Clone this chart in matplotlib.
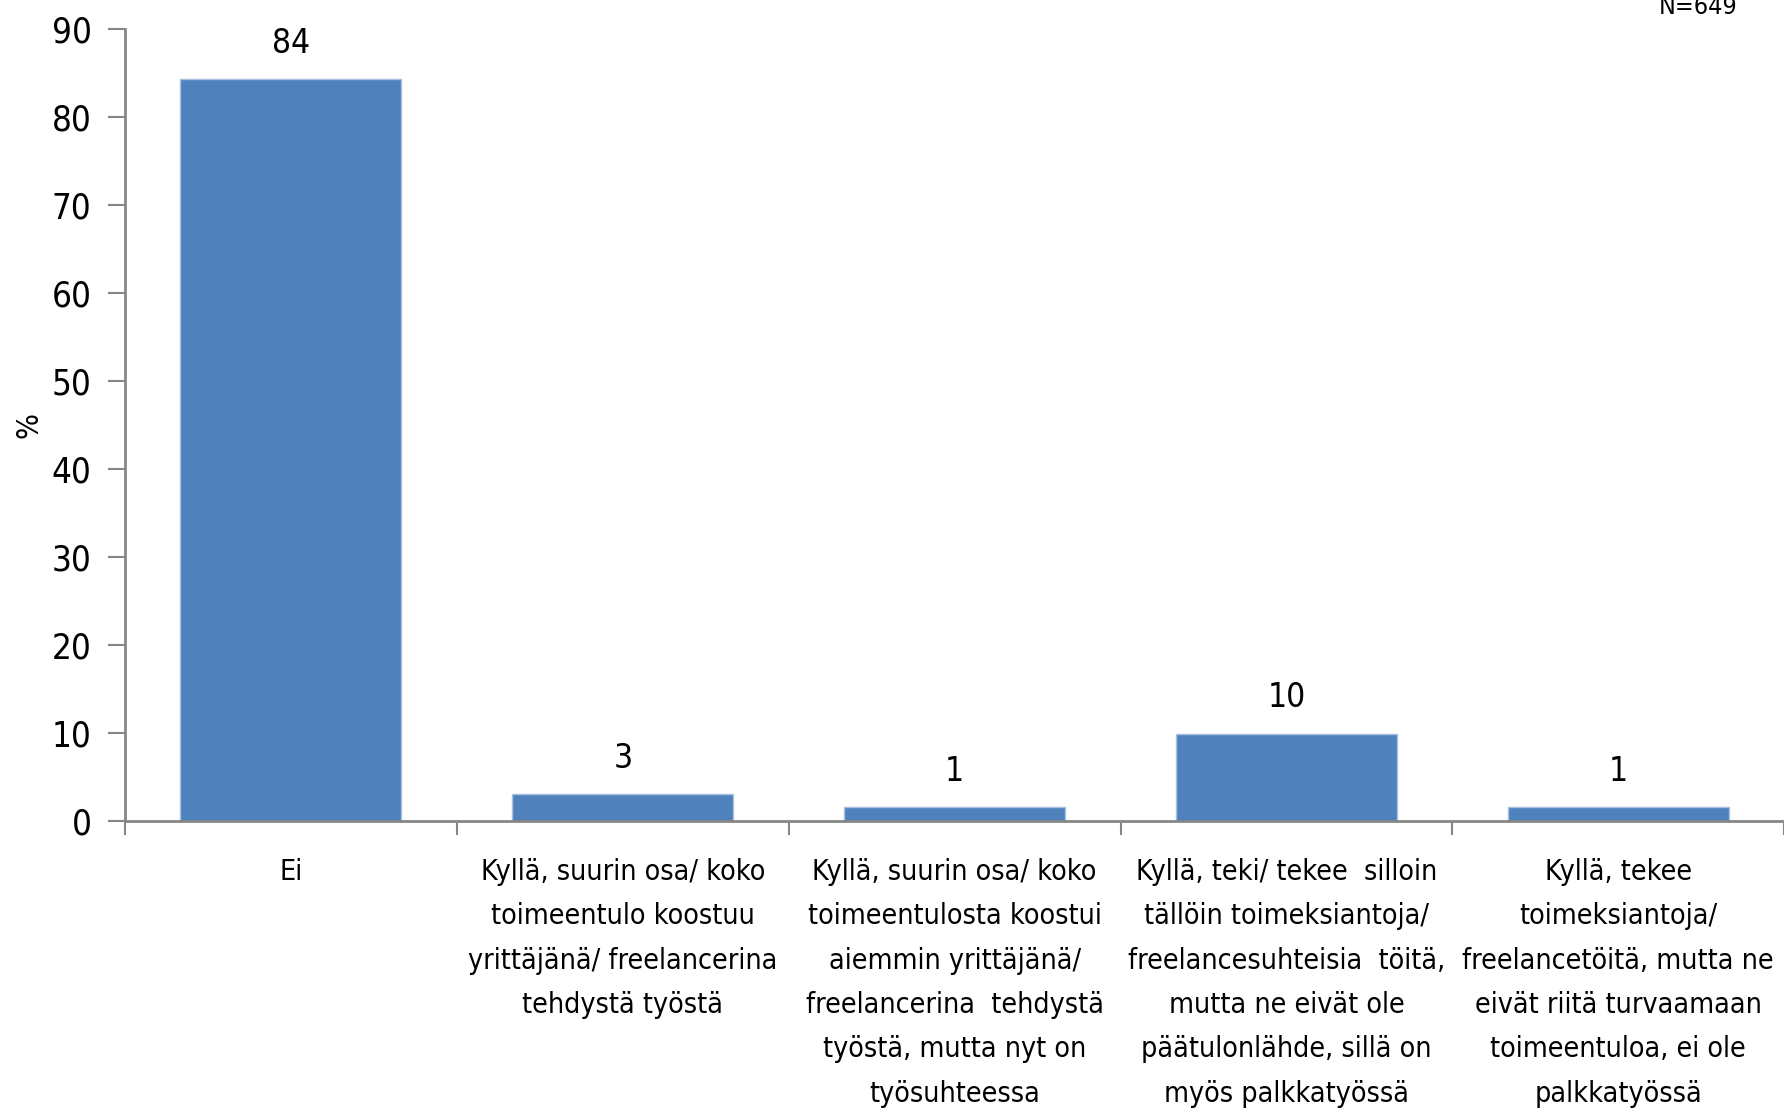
import matplotlib.pyplot as plt
import numpy as np

# Data ------------------------------------------------------------------------
categories = [
    "Ei",
    "Kyllä, suurin osa/ koko\ntoimeentulo koostuu\nyrittäjänä/ freelancerina\ntehdystä työstä",
    "Kyllä, suurin osa/ koko\ntoimeentulosta koostui\naiemmin yrittäjänä/\nfreelancerina  tehdystä\ntyöstä, mutta nyt on\ntyösuhteessa",
    "Kyllä, teki/ tekee  silloin\ntällöin toimeksiantoja/\nfreelancesuhteisia  töitä,\nmutta ne eivät ole\npäätulonlähde, sillä on\nmyös palkkatyössä",
    "Kyllä, tekee\ntoimeksiantoja/\nfreelancetöitä, mutta ne\neivät riitä turvaamaan\ntoimeentuloa, ei ole\npalkkatyössä",
]
values = [84.3, 3.0, 1.5, 9.9, 1.5]
value_labels = ["84", "3", "1", "10", "1"]
y_ticks = [0, 10, 20, 30, 40, 50, 60, 70, 80, 90]

# Style -----------------------------------------------------------------------
plt.rcParams['font.family'] = ['DejaVu Sans']
plt.rcParams['font.stretch'] = 'condensed'
axis_col = '#868686'
bar_col = '#4F81BD'

fig = plt.figure(figsize=(17.84, 11.15), dpi=100)
ax = fig.add_axes([0.0701, 0.264, 0.93, 0.710])

x = np.arange(len(categories))
ax.bar(x, values, width=0.666, color=bar_col, edgecolor='#A9C1E0', linewidth=1, zorder=2)

# value labels above bars
for xi, v, lab in zip(x, values, value_labels):
    ax.text(xi, v + 2.2, lab, ha='center', va='bottom', fontsize=24)

ax.set_xlim(-0.5, len(categories) - 0.5)
ax.set_ylim(0, 90)
ax.set_yticks(y_ticks)
ax.tick_params(axis='y', labelsize=25, length=12, width=1.5, color=axis_col,
               direction='out', pad=12)

# category boundaries as x ticks, labels centred under bars
ax.set_xticks(np.arange(-0.5, len(categories), 1.0))
ax.set_xticklabels([])
ax.tick_params(axis='x', length=10, width=1.5, color=axis_col, direction='out')
ax.set_xticks(x, minor=True)
ax.set_xticklabels(categories, minor=True, fontsize=20.5, linespacing=1.74, va='top')
ax.tick_params(axis='x', which='minor', length=0, pad=27)

for s in ['top', 'right']:
    ax.spines[s].set_visible(False)
for s in ['left', 'bottom']:
    ax.spines[s].set_color(axis_col)
    ax.spines[s].set_linewidth(2)

ax.set_ylabel('%', fontsize=22, va='center')
ax.yaxis.set_label_coords(-0.058, 0.5)

fig.text(0.974, 0.9874, 'N=649', ha='right', va='baseline', fontsize=18)

fig.savefig('out.png', dpi=100)
